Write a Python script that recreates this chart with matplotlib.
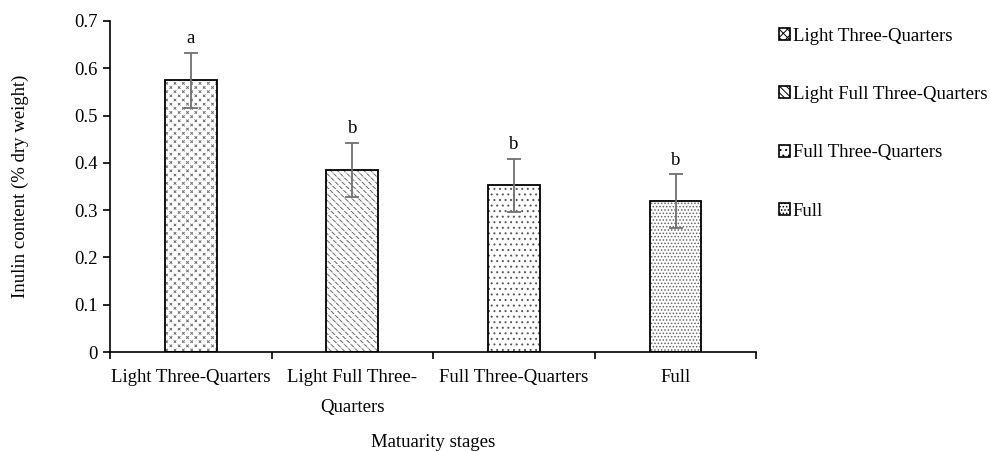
import matplotlib
matplotlib.use('Agg')
import matplotlib.pyplot as plt
import numpy as np
from matplotlib.patches import Patch

plt.rcParams['font.family'] = ['Liberation Serif', 'DejaVu Serif']
plt.rcParams['hatch.linewidth'] = 0.7

# inulin content per maturity stage
stages = ['Light Three-Quarters', 'Light Full Three-Quarters',
          'Full Three-Quarters', 'Full']
tick_labels = ['Light Three-Quarters', 'Light Full Three-\nQuarters',
               'Full Three-Quarters', 'Full']
inulin = [0.575, 0.385, 0.353, 0.319]
errors = [0.058, 0.057, 0.056, 0.057]
letters = ['a', 'b', 'b', 'b']

# grey pattern, then white pattern laid over it to break the lines up
hatches = ['xxxx', '\\\\\\\\\\', '...', '.....']
cut_hatches = ['++++', '----', None, None]
hatch_greys = ['#777777', '#666666', '#555555', '#666666']

fs = 13.5

fig = plt.figure(figsize=(9.9, 4.51), dpi=100)
ax = fig.add_axes([0.111, 0.2195, 0.653, 0.734])

x = np.arange(len(stages))
width = 0.32

for i in range(len(stages)):
    ax.bar(x[i], inulin[i], width, color='white', edgecolor=hatch_greys[i],
           hatch=hatches[i], linewidth=0, zorder=2)
    if cut_hatches[i]:
        ax.bar(x[i], inulin[i], width, fill=False, edgecolor='white',
               hatch=cut_hatches[i], linewidth=0, zorder=2.5)
    ax.bar(x[i], inulin[i], width, fill=False, edgecolor='black',
           linewidth=1.3, zorder=3)

ax.errorbar(x, inulin, yerr=errors, fmt='none', ecolor='#707070',
            elinewidth=1.3, capsize=5, capthick=1.3, zorder=4)

for xi, v, e, t in zip(x, inulin, errors, letters):
    ax.text(xi, v + e + 0.012, t, ha='center', va='bottom', fontsize=fs)

ax.set_xlim(-0.5, len(stages) - 0.5)
ax.set_ylim(0, 0.7)
ax.set_yticks(np.arange(0, 0.71, 0.1))
ax.set_yticklabels(['0', '0.1', '0.2', '0.3', '0.4', '0.5', '0.6', '0.7'])
ax.set_xticks(x)
ax.set_xticklabels(tick_labels)
ax.set_xticks(np.arange(-0.5, len(stages), 1), minor=True)
ax.tick_params(axis='x', which='major', length=0, pad=12, labelsize=fs)
ax.tick_params(axis='x', which='minor', length=5, width=1.2, direction='out')
ax.tick_params(axis='y', length=5, width=1.2, pad=4, labelsize=fs)
for lab in ax.get_xticklabels():
    lab.set_linespacing(2.0)

for s in ['top', 'right']:
    ax.spines[s].set_visible(False)
for s in ['left', 'bottom']:
    ax.spines[s].set_linewidth(1.2)

ax.set_ylabel('Inulin content (% dry weight)', fontsize=fs, labelpad=32)
ax.set_xlabel('Matuarity stages', fontsize=fs, labelpad=13)

handles = [Patch(facecolor='white', edgecolor='black', hatch=h, linewidth=1.2)
           for h in hatches]
fig.legend(handles, stages, loc='upper left', bbox_to_anchor=(0.779, 0.955),
           frameon=False, fontsize=fs, handlelength=0.6, handleheight=0.6,
           handletextpad=0.15, labelspacing=2.2, borderaxespad=0)

fig.savefig('out.png', dpi=100)
